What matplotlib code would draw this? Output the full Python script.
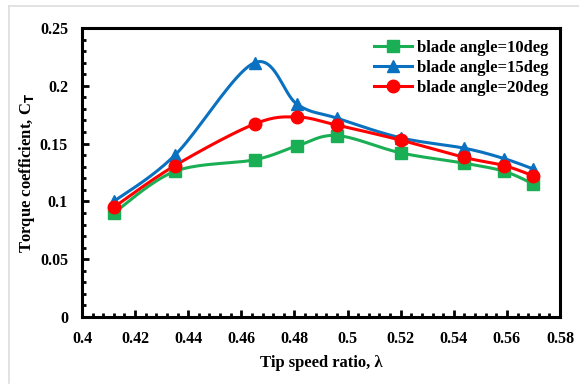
import numpy as np
import matplotlib
matplotlib.use("Agg")
import matplotlib.pyplot as plt
from matplotlib.lines import Line2D
from matplotlib.ticker import MultipleLocator, FuncFormatter

# data
tsr = [0.412, 0.435, 0.465, 0.481, 0.496, 0.520, 0.544, 0.559, 0.570]
ct_10 = [0.090, 0.126, 0.136, 0.148, 0.157, 0.142, 0.133, 0.126, 0.115]
ct_15 = [0.100, 0.140, 0.220, 0.184, 0.172, 0.155, 0.146, 0.137, 0.128]
ct_20 = [0.095, 0.131, 0.167, 0.173, 0.166, 0.153, 0.138, 0.131, 0.122]
labels = ["blade angle=10deg", "blade angle=15deg", "blade angle=20deg"]

C_GREEN = "#1aaf54"
C_BLUE = "#0a70c0"
C_RED = "#ff0000"

plt.rcParams["font.family"] = ["Liberation Serif", "DejaVu Serif"]
plt.rcParams["font.weight"] = "bold"


def smooth(x, y, n=20):
    # Excel-like smoothed line (Catmull-Rom through the points)
    x = np.asarray(x, float)
    y = np.asarray(y, float)
    px = np.concatenate([[x[0]], x, [x[-1]]])
    py = np.concatenate([[y[0]], y, [y[-1]]])
    xs, ys = [], []
    t = np.linspace(0, 1, n, endpoint=False)
    for i in range(1, len(px) - 2):
        for arr, out in ((px, xs), (py, ys)):
            p0, p1, p2, p3 = arr[i - 1], arr[i], arr[i + 1], arr[i + 2]
            m1 = (p2 - p0) / 2
            m2 = (p3 - p1) / 2
            h00 = 2 * t**3 - 3 * t**2 + 1
            h10 = t**3 - 2 * t**2 + t
            h01 = -2 * t**3 + 3 * t**2
            h11 = t**3 - t**2
            out.extend(h00 * p1 + h10 * m1 + h01 * p2 + h11 * m2)
    xs.append(x[-1])
    ys.append(y[-1])
    return np.array(xs), np.array(ys)


fig = plt.figure(figsize=(5.79, 3.85), dpi=100)
ax = fig.add_axes([82 / 579, 1 - 317 / 385, (560 - 82) / 579, (317 - 28) / 385])

series = [(ct_10, C_GREEN, "s", 8), (ct_15, C_BLUE, "^", 8), (ct_20, C_RED, "o", 9)]
handles = []
for (ys, col, mk, ms), lab in zip(series, labels):
    sx, sy = smooth(tsr, ys)
    ax.plot(sx, sy, color=col, lw=2.2, zorder=3)
    ax.plot(tsr, ys, ls="none", marker=mk, color=col, ms=ms, mec=col, zorder=4)
    handles.append(Line2D([], [], color=col, lw=2.2, marker=mk, ms=ms, label=lab))

ax.set_xlim(0.4, 0.58)
ax.set_ylim(0, 0.25)
ax.xaxis.set_major_locator(MultipleLocator(0.02))
ax.xaxis.set_minor_locator(MultipleLocator(0.004))
ax.yaxis.set_major_locator(MultipleLocator(0.05))
ax.yaxis.set_minor_locator(MultipleLocator(0.01))
fmt = FuncFormatter(lambda v, p: ("%.2f" % v).rstrip("0").rstrip(".") if v != 0 else "0")
ax.xaxis.set_major_formatter(fmt)
ax.yaxis.set_major_formatter(fmt)
ax.tick_params(which="both", direction="in", width=2, labelsize=11.5)
ax.tick_params(which="major", length=5)
ax.tick_params(which="minor", length=3)
ax.tick_params(axis="x", pad=10)
ax.tick_params(axis="y", pad=10)
for s in ax.spines.values():
    s.set_linewidth(2.2)

ax.set_xlabel("Tip speed ratio, λ", fontsize=12, fontweight="bold", labelpad=6)
ax.set_ylabel("Torque coefficient, C$_\\mathbf{T}$", fontsize=12, fontweight="bold", labelpad=2)

ax.legend(handles=handles, loc="upper right", frameon=False, fontsize=12,
          handlelength=2.3, handletextpad=0.3, labelspacing=0.25,
          borderaxespad=0.3, prop={"weight": "bold", "size": 12})

# light page border on left and top
fig.add_artist(Line2D([9 / 579, 9 / 579], [0.005, 1 - 6 / 385], color="#dddddd", lw=1.2))
fig.add_artist(Line2D([9 / 579, 1], [1 - 6 / 385, 1 - 6 / 385], color="#dddddd", lw=1.2))

fig.savefig("out.png", dpi=100)
